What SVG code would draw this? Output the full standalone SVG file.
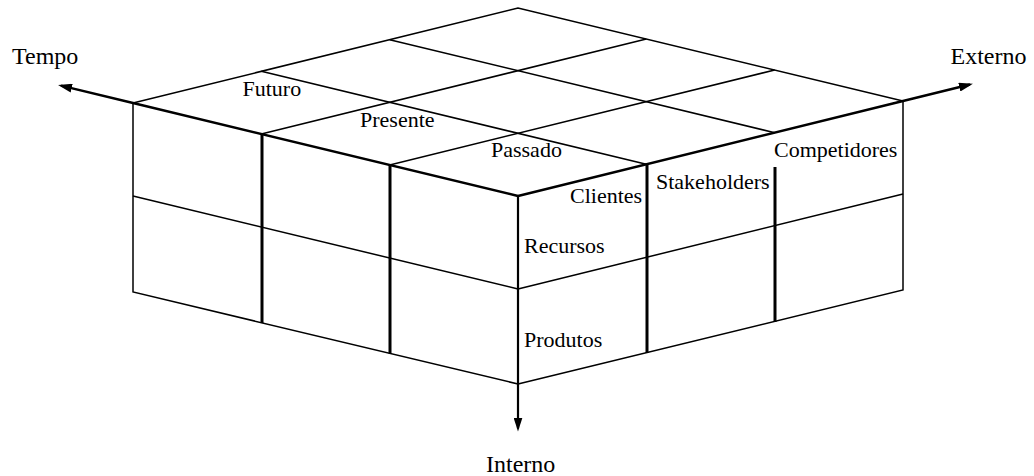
<svg xmlns="http://www.w3.org/2000/svg" width="1034" height="476" viewBox="0 0 1034 476">
<style>
.thin{fill:none;stroke:#000;stroke-width:1.5}
.mid{fill:none;stroke:#000;stroke-width:2.2}
.thick{fill:none;stroke:#000;stroke-width:3}
.axis{fill:none;stroke:#000;stroke-width:2.5}
.lbl{font-family:"Liberation Serif","Times New Roman",serif;font-size:22px;fill:#000}
.ax{font-family:"Liberation Serif","Times New Roman",serif;font-size:24px;fill:#000}
</style>
<defs>
<marker id="arrow" viewBox="0 0 14 9" refX="11" refY="4.5" markerWidth="14" markerHeight="9" markerUnits="userSpaceOnUse" orient="auto">
<path d="M0,0 L14,4.5 L0,9 Z" fill="#000"/>
</marker>
</defs>
<rect width="1034" height="476" fill="#fff"/>
<g id="top-face">
<path class="thin" d="M133,103 L518,8 L903,101"/>
<path class="thin" d="M261.3,71.3 L646.3,164.3 M389.7,39.7 L774.7,132.7"/>
<path class="thin" d="M261.3,134 L646.3,39 M389.7,165 L774.7,70"/>
</g>
<g id="left-face">
<path class="thin" d="M133,103 L133,292 L518,384"/>
<path class="thin" d="M133,196 L518,289"/>
<path class="thick" d="M262,134 L262,323 M390,165 L390,353.5"/>
</g>
<g id="right-face">
<path class="thin" d="M903,101 L903,290 L518,384"/>
<path class="thin" d="M518,289 L903,194"/>
<path class="thick" d="M647,164 L647,353 M775,167 L775,322"/>
</g>
<g id="connectors">
<path class="axis" d="M518,196 L133,103 L61,85.6" marker-end="url(#arrow)"/>
<path class="axis" d="M518,196 L903,101 L970,84.5" marker-end="url(#arrow)"/>
<path class="mid" d="M518,196 L518,428.5" marker-end="url(#arrow)"/>
</g>
<g id="axis-labels">
<text class="ax" x="12" y="64">Tempo</text>
<text class="ax" x="950.5" y="64">Externo</text>
<text class="ax" x="486" y="471.5">Interno</text>
</g>
<g id="cell-labels">
<text class="lbl" x="242.5" y="96">Futuro</text>
<text class="lbl" x="360" y="126.7">Presente</text>
<text class="lbl" x="491" y="157.3">Passado</text>
<text class="lbl" x="570" y="203.3">Clientes</text>
<text class="lbl" x="656" y="189.3">Stakeholders</text>
<text class="lbl" x="774" y="157.3">Competidores</text>
<text class="lbl" x="524" y="252.7">Recursos</text>
<text class="lbl" x="524" y="346.7">Produtos</text>
</g>
</svg>
